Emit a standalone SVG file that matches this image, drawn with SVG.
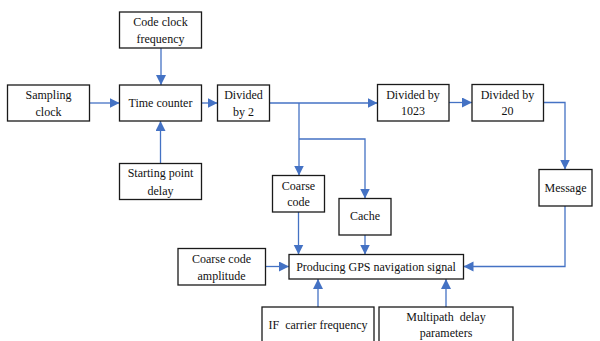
<svg xmlns="http://www.w3.org/2000/svg" width="600" height="341" viewBox="0 0 600 341">
<style>
.b{fill:#fff;stroke:#1a1a1a;stroke-width:1.3}
.t{font-family:'Liberation Serif','DejaVu Serif',serif;font-size:12px;fill:#111;text-anchor:middle}
.c{fill:none;stroke:#4472C4;stroke-width:1.3}
</style>
<defs>
<marker id="a" markerUnits="userSpaceOnUse" markerWidth="11" markerHeight="11" refX="10" refY="5" orient="auto">
<path d="M0,0 L10,5 L0,10 Z" fill="#4472C4"/>
</marker>
</defs>
<rect width="600" height="341" fill="#fff"/>
<g id="connectors">
<path class="c" d="M161,48 V85" marker-end="url(#a)"/>
<path class="c" d="M89.5,103 H119.5" marker-end="url(#a)"/>
<path class="c" d="M201.5,103 H217.5" marker-end="url(#a)"/>
<path class="c" d="M160.5,163.5 V121" marker-end="url(#a)"/>
<path class="c" d="M269.5,103 H377.5" marker-end="url(#a)"/>
<path class="c" d="M449,102.5 H472" marker-end="url(#a)"/>
<path class="c" d="M543.5,102.5 H565 V169.5" marker-end="url(#a)"/>
<path class="c" d="M299,103 V175.5" marker-end="url(#a)"/>
<path class="c" d="M299,139 H365 V198.5" marker-end="url(#a)"/>
<path class="c" d="M298.5,212 V254.5" marker-end="url(#a)"/>
<path class="c" d="M365,235 V254.5" marker-end="url(#a)"/>
<path class="c" d="M265.5,266.5 H289" marker-end="url(#a)"/>
<path class="c" d="M318,307 V279" marker-end="url(#a)"/>
<path class="c" d="M446,307 V279" marker-end="url(#a)"/>
<path class="c" d="M565,206 V266.5 H463.5" marker-end="url(#a)"/>
</g>
<g id="code-clock-frequency"><rect class="b" x="119.5" y="12" width="82" height="36"/><text class="t" font-family="Liberation Serif, serif" x="160.5" y="26">Code clock</text><text class="t" x="160.5" y="42.5">frequency</text></g>
<g id="sampling-clock"><rect class="b" x="7.5" y="85" width="82" height="36"/><text class="t" x="48.5" y="99">Sampling</text><text class="t" x="48.5" y="115.5">clock</text></g>
<g id="time-counter"><rect class="b" x="119.5" y="85" width="82" height="36"/><text class="t" x="160.5" y="107">Time counter</text></g>
<g id="divided-by-2"><rect class="b" x="217.5" y="85" width="52" height="36"/><text class="t" x="243.5" y="99">Divided</text><text class="t" x="243.5" y="115.5">by 2</text></g>
<g id="starting-point-delay"><rect class="b" x="119.5" y="163.5" width="82" height="36"/><text class="t" x="160.5" y="177">Starting point</text><text class="t" x="160.5" y="194.5">delay</text></g>
<g id="divided-by-1023"><rect class="b" x="377.5" y="84.5" width="71.5" height="36.5"/><text class="t" x="413" y="98.5">Divided by</text><text class="t" x="413" y="115">1023</text></g>
<g id="divided-by-20"><rect class="b" x="472" y="84.5" width="71.5" height="36.5"/><text class="t" x="507.5" y="98.5">Divided by</text><text class="t" x="507.5" y="115">20</text></g>
<g id="message"><rect class="b" x="539" y="169.5" width="53" height="36.5"/><text class="t" x="565.5" y="192">Message</text></g>
<g id="coarse-code"><rect class="b" x="272.5" y="175.5" width="52" height="36.5"/><text class="t" x="298.5" y="189.5">Coarse</text><text class="t" x="298.5" y="206">code</text></g>
<g id="cache"><rect class="b" x="339" y="198.5" width="52" height="36.5"/><text class="t" x="365" y="220">Cache</text></g>
<g id="coarse-code-amplitude"><rect class="b" x="178" y="248.5" width="87.5" height="36.5"/><text class="t" x="221.5" y="263">Coarse code</text><text class="t" x="221.5" y="279.5">amplitude</text></g>
<g id="producing"><rect class="b" x="289" y="254.5" width="174.5" height="24.5"/><text class="t" x="376" y="270.5">Producing GPS navigation signal</text></g>
<g id="if-carrier-frequency"><rect class="b" x="262" y="307" width="112" height="40"/><text class="t" x="318" y="328.5" xml:space="preserve">IF  carrier frequency</text></g>
<g id="multipath-delay-parameters"><rect class="b" x="379" y="307" width="134" height="40"/><text class="t" x="446" y="320.5" xml:space="preserve">Multipath  delay</text><text class="t" x="446" y="337">parameters</text></g>
</svg>
